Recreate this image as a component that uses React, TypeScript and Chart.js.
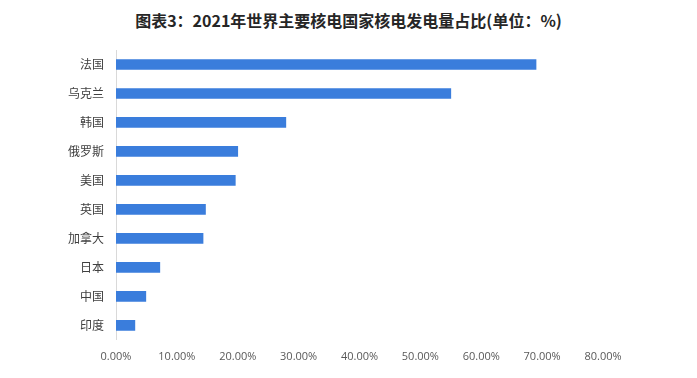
import React, { useEffect, useRef } from "react";
import { Chart, registerables } from "chart.js";

Chart.register(...registerables);

const TITLE = "图表3：2021年世界主要核电国家核电发电量占比(单位：%)";
const categories = ["法国", "乌克兰", "韩国", "俄罗斯", "美国", "英国", "加拿大", "日本", "中国", "印度"];
const shares = [69.0, 55.0, 27.9, 20.0, 19.6, 14.7, 14.3, 7.2, 4.9, 3.1];
const xTicksMax = 80;
const xTicksStep = 10;

export default function App() {
  const ref = useRef<HTMLCanvasElement | null>(null);

  useEffect(() => {
    if (!ref.current) return;
    const chart = new Chart(ref.current, {
      type: "bar",
      data: {
        labels: categories,
        datasets: [
          {
            data: shares,
            backgroundColor: "#3a7ddc",
            barThickness: 10,
          },
        ],
      },
      options: {
        indexAxis: "y",
        animation: false,
        responsive: true,
        maintainAspectRatio: false,
        layout: { padding: { left: 0, right: 94, top: 50, bottom: 5 } },
        plugins: {
          legend: { display: false },
          tooltip: { enabled: false },
          title: { display: false },
        },
        scales: {
          x: {
            min: 0,
            max: xTicksMax,
            grid: { display: false, drawTicks: false },
            border: { display: false },
            ticks: {
              stepSize: xTicksStep,
              padding: 10,
              color: "#595959",
              font: { family: "'Open Sans', sans-serif", size: 11 },
              callback: (v: any) => Number(v).toFixed(2) + "%",
            },
          },
          y: {
            grid: { display: false, drawTicks: false },
            border: { display: true, color: "#d9d9d9", width: 1 },
            ticks: {
              padding: 12,
              color: "#404040",
              font: { family: "'Noto Sans CJK SC', sans-serif", size: 12 },
            },
            afterFit: (scale: any) => {
              scale.width = 116;
            },
          },
        },
      },
    });
    return () => chart.destroy();
  }, []);

  return (
    <div style={{ position: "fixed", left: 0, top: 0, width: 697, height: 378, background: "#ffffff" }}>
      <div
        style={{
          position: "absolute",
          left: 0,
          top: 8,
          width: 697,
          textAlign: "center",
          fontFamily: "'Noto Sans CJK SC', sans-serif",
          fontWeight: "bold",
          fontSize: 16,
          lineHeight: "24px",
          color: "#262626",
        }}
      >
        {TITLE}
      </div>
      <div style={{ position: "absolute", left: 0, top: 0, width: 697, height: 378 }}>
        <canvas ref={ref} />
      </div>
    </div>
  );
}
